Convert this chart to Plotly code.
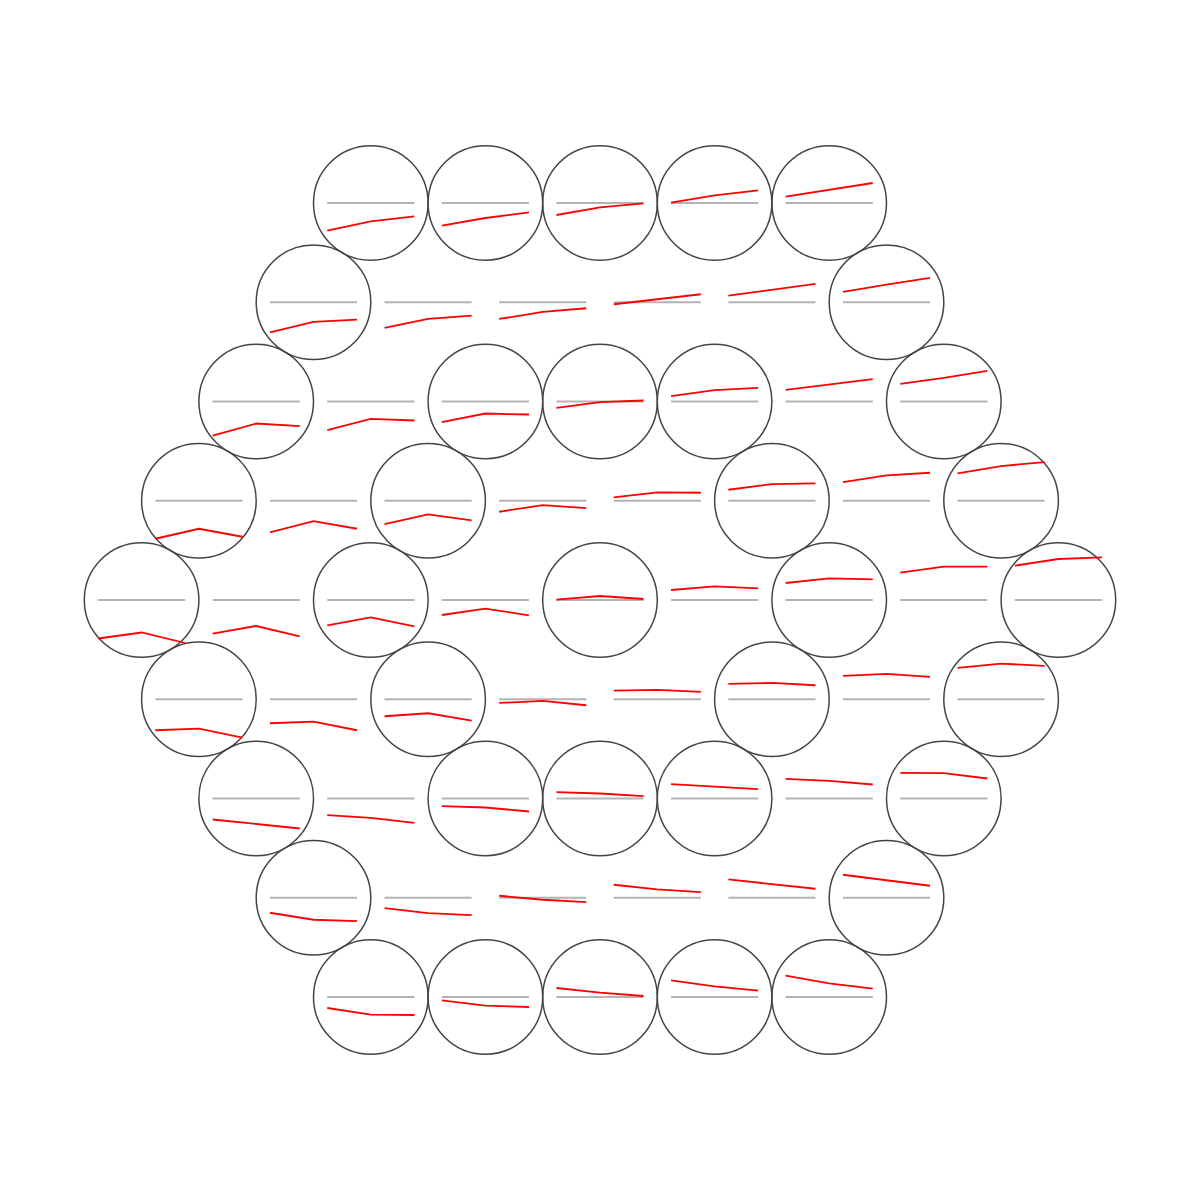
import math
import plotly.graph_objects as go

# Red series values for each hexagonal cell, three samples per cell (left, middle, right),
# rows from top to bottom, cells left to right. Baseline (grey) is 0.
ROW_0 = [(-27.7, -18.3, -13.3), (-22.7, -15.0, -9.3), (-12.0, -4.3, -0.3), (0.3, 7.7, 12.7), (6.3, 13.3, 20.0)]
ROW_1 = [(-30.0, -19.7, -17.3), (-25.7, -16.7, -13.3), (-16.7, -9.7, -6.0), (-2.0, 3.3, 8.0), (6.7, 12.3, 18.3), (10.3, 17.7, 24.3)]
ROW_2 = [(-34.0, -22.0, -24.7), (-28.7, -17.3, -19.0), (-20.7, -12.0, -13.0), (-6.3, -0.7, 1.0), (5.3, 11.3, 13.7), (11.7, 17.3, 22.3), (17.7, 23.7, 30.7)]
ROW_3 = [(-38.0, -28.0, -36.0), (-31.7, -20.3, -28.0), (-23.3, -13.7, -19.7), (-11.0, -4.3, -7.3), (3.3, 8.3, 8.0), (11.0, 16.7, 17.3), (18.7, 25.3, 28.0), (27.3, 34.7, 38.7)]
ROW_4 = [(-38.5, -32.5, -43.0), (-33.7, -26.0, -36.3), (-25.3, -17.3, -26.3), (-15.0, -8.7, -15.3), (0.3, 4.0, 1.0), (10.0, 13.7, 11.7), (17.0, 21.7, 20.7), (27.3, 33.3, 33.3), (34.3, 41.0, 42.7)]
ROW_5 = [(-31.0, -29.3, -38.3), (-24.0, -22.3, -31.0), (-17.0, -14.0, -21.3), (-3.7, -1.7, -6.0), (8.7, 9.3, 7.3), (15.3, 16.3, 14.0), (23.3, 25.3, 22.3), (31.3, 35.7, 33.3)]
ROW_6 = [(-21.0, -25.3, -30.0), (-16.7, -19.3, -24.3), (-7.7, -9.0, -13.0), (6.3, 5.0, 2.3), (14.3, 12.0, 9.3), (19.7, 17.7, 14.0), (25.7, 25.3, 20.0)]
ROW_7 = [(-15.0, -22.0, -23.3), (-10.3, -15.3, -17.3), (2.0, -2.0, -4.3), (13.0, 8.3, 5.7), (18.3, 13.7, 9.0), (23.0, 17.7, 12.0)]
ROW_8 = [(-11.0, -17.7, -18.0), (-3.3, -8.7, -10.0), (9.0, 4.3, 1.0), (16.7, 10.7, 6.3), (21.3, 13.7, 8.3)]
ROWS = [ROW_0, ROW_1, ROW_2, ROW_3, ROW_4, ROW_5, ROW_6, ROW_7, ROW_8]

CIRCLED_RINGS = [0, 2, 4]   # hex rings (distance from centre) whose cells are circled

# ---- layout constants ----
PX_PER_UNIT = 114.6          # cell spacing in pixels
VALUE_SCALE = 1.0 / PX_PER_UNIT
HALF_LEN = 0.38              # half width of the sparkline within a cell (units)
RADIUS = 0.5
ROW_DY = math.sqrt(3) / 2
PAGE_OFFSET = 8              # page margin of the html body, in pixels

gx, gy, rx, ry = [], [], [], []
shapes = []
n_rows = len(ROWS)
mid_row = n_rows // 2
for r, row in enumerate(ROWS):
    dr = r - mid_row
    n = len(row)
    cy = -dr * ROW_DY
    for i, vals in enumerate(row):
        cx = i - (n - 1) / 2
        q = cx - dr / 2
        dist = int(round((abs(q) + abs(dr) + abs(q + dr)) / 2))
        xs = [cx - HALF_LEN, cx, cx + HALF_LEN]
        gx += [xs[0], xs[2], None]
        gy += [cy, cy, None]
        rx += xs + [None]
        ry += [cy + v * VALUE_SCALE for v in vals] + [None]
        if dist in CIRCLED_RINGS:
            shapes.append(dict(type="circle", xref="x", yref="y",
                               x0=cx - RADIUS, x1=cx + RADIUS,
                               y0=cy - RADIUS, y1=cy + RADIUS,
                               line=dict(color="#444444", width=1.5),
                               layer="below"))

fig = go.Figure()
fig.add_trace(go.Scatter(x=gx, y=gy, mode="lines",
                         line=dict(color="#b3b3b3", width=2),
                         hoverinfo="skip", showlegend=False))
fig.add_trace(go.Scatter(x=rx, y=ry, mode="lines",
                         line=dict(color="red", width=1.8),
                         hoverinfo="skip", showlegend=False))

c = 600 - PAGE_OFFSET
fig.update_layout(
    width=1200, height=1200,
    margin=dict(l=0, r=0, t=0, b=0),
    paper_bgcolor="white", plot_bgcolor="white",
    shapes=shapes,
    xaxis=dict(range=[-c / PX_PER_UNIT, (1200 - c) / PX_PER_UNIT], visible=False,
               showgrid=False, zeroline=False),
    yaxis=dict(range=[-(1200 - c) / PX_PER_UNIT, c / PX_PER_UNIT], visible=False,
               showgrid=False, zeroline=False),
    showlegend=False,
)
fig.write_html("out.html")
